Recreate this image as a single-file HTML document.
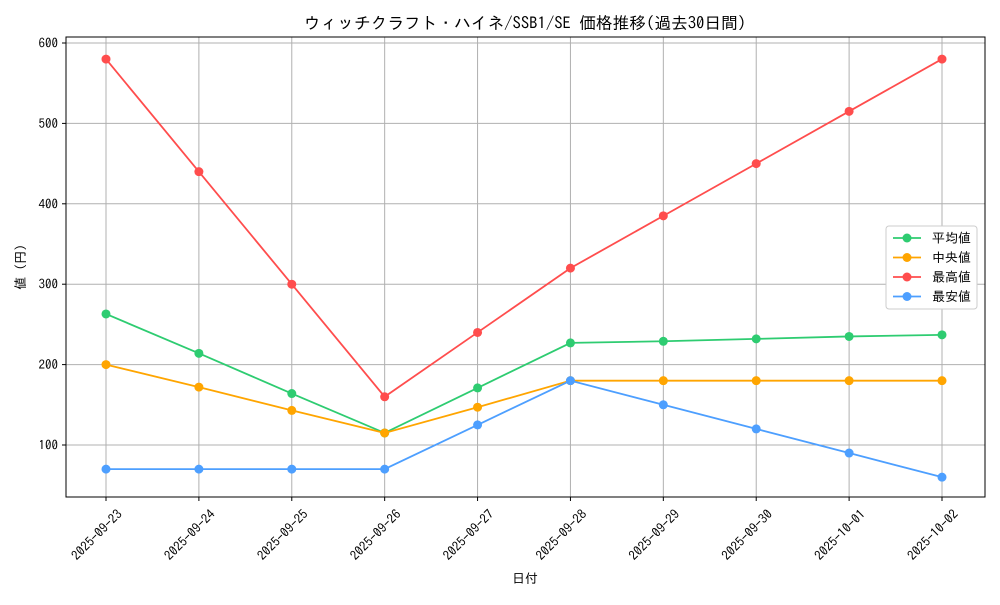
<!DOCTYPE html>
<html><head><meta charset="utf-8"><style>
body{margin:0;background:#fff;}
svg{font-family:"IPAGothic","Noto Sans CJK JP",sans-serif;}
</style></head><body>
<svg id="chart" width="1000" height="600"></svg>
<script>
const categories=["2025-09-23","2025-09-24","2025-09-25","2025-09-26","2025-09-27","2025-09-28","2025-09-29","2025-09-30","2025-10-01","2025-10-02"];
const avgValues=[263,214,164,115,171,227,229,232,235,237];
const medianValues=[200,172,143,115,147,180,180,180,180,180];
const maxValues=[580,440,300,160,240,320,385,450,515,580];
const minValues=[70,70,70,70,125,180,150,120,90,60];
const yTicks=[100,200,300,400,500,600];
const seriesNames=["平均値","中央値","最高値","最安値"];
const seriesColors=["#2ecc71","#ffa500","#ff4d4d","#4d9fff"];

const NS="http://www.w3.org/2000/svg";
const svg=document.getElementById('chart');
const L=66,R=985,T=37,B=497;
const x=i=>106+i*(942-106)/(categories.length-1);
const y=v=>445-(v-100)*0.804;
function mk(tag,attrs,parent){const e=document.createElementNS(NS,tag);for(const k in attrs)e.setAttribute(k,attrs[k]);(parent||svg).appendChild(e);return e;}

let t=mk('text',{x:525,y:29,'text-anchor':'middle','font-size':16.7,fill:'#000'});
t.textContent="ウィッチクラフト・ハイネ/SSB1/SE 価格推移(過去30日間)";



categories.forEach((c,i)=>{
  const g=mk('line',{x1:x(i),x2:x(i),y1:T,y2:B,stroke:'#b0b0b0','stroke-width':1});
  
  
  const tk=mk('line',{x1:x(i),x2:x(i),y1:B,y2:B+4,stroke:'#000'});
  
  
  const lb=mk('text',{x:0,y:0,'font-size':13,'text-anchor':'end',transform:`translate(${x(i)+17},${B+18}) rotate(-45)`});
  lb.textContent=c;
  
  
});
yTicks.forEach(v=>{
  const g=mk('line',{x1:L,x2:R,y1:y(v),y2:y(v),stroke:'#b0b0b0','stroke-width':1});
  
  
  const tk=mk('line',{x1:L-4,x2:L,y1:y(v),y2:y(v),stroke:'#000'});
  
  
  const lb=mk('text',{x:L-8,y:y(v)+4.5,'font-size':13,'text-anchor':'end'});
  lb.textContent=v;
  
  
});
const frame=mk('rect',{x:L,y:T,width:R-L,height:B-T,fill:'none',stroke:'#000','stroke-width':1});



let xt=mk('text',{x:525,y:583,'text-anchor':'middle','font-size':13});
xt.textContent="日付";


let yt=mk('text',{x:0,y:0,'text-anchor':'middle','font-size':13,transform:'translate(25,267) rotate(-90)'});
yt.textContent="値 (円)";



const allSeries=[avgValues,medianValues,maxValues,minValues];
allSeries.forEach((vals,s)=>{
  const p=mk('polyline',{points:vals.map((v,i)=>x(i)+','+y(v)).join(' '),fill:'none',stroke:seriesColors[s],'stroke-width':1.8});
  
  
  vals.forEach((v,i)=>{
    const c=mk('circle',{cx:x(i),cy:y(v),r:4.5,fill:seriesColors[s]});
    
    
  });
});

const lg=mk('rect',{x:886,y:226,width:91,height:83,fill:'#fff',stroke:'#ccc',rx:3});


seriesNames.forEach((n,s)=>{
  const ly=238+s*19.5;
  const l=mk('line',{x1:893,x2:921,y1:ly,y2:ly,stroke:seriesColors[s],'stroke-width':1.8});
  
  
  const c=mk('circle',{cx:907,cy:ly,r:4.5,fill:seriesColors[s]});
  
  
  const tx=mk('text',{x:932,y:ly+4.5,'font-size':13});
  tx.textContent=n;
  
  
});
</script>
</body></html>
